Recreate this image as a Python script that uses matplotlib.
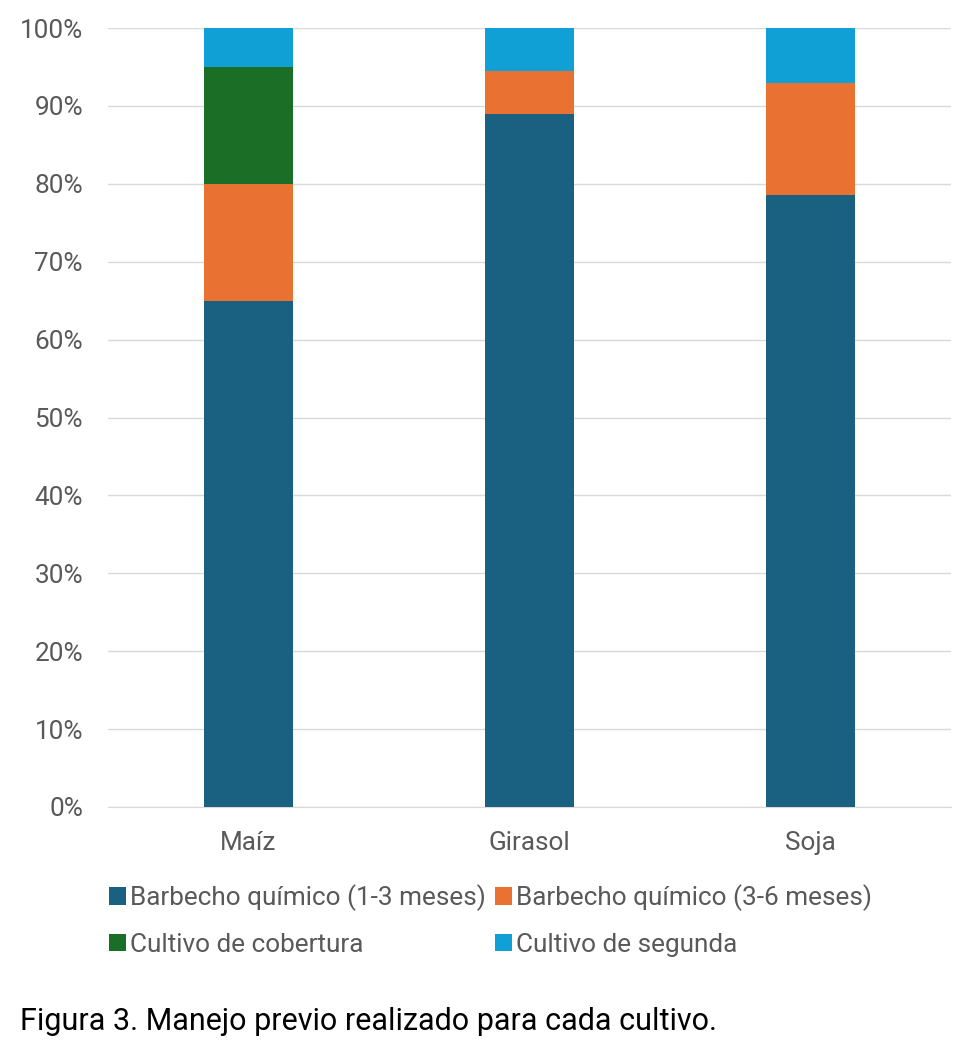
import matplotlib
matplotlib.use("Agg")
import matplotlib.pyplot as plt
from matplotlib.ticker import PercentFormatter
import numpy as np

categories = ["Maíz", "Girasol", "Soja"]
series_names = ["Barbecho químico (1-3 meses)", "Barbecho químico (3-6 meses)",
                "Cultivo de cobertura", "Cultivo de segunda"]
barbecho_1_3 = [65.0, 88.9, 78.6]
barbecho_3_6 = [15.0, 5.55, 14.3]
cobertura = [15.0, 0.0, 0.0]
segunda = [5.0, 5.55, 7.1]
colors = ["#1a6080", "#e97132", "#1b6e26", "#10a0d6"]
yticks = [0, 10, 20, 30, 40, 50, 60, 70, 80, 90, 100]

plt.rcParams['font.family'] = ['Roboto', 'DejaVu Sans']

fig = plt.figure(figsize=(9.79, 10.61), dpi=100)
ax = fig.add_axes([108/979, 1 - 807/1061, 843/979, 779/1061])

x = np.arange(len(categories))
bottom = np.zeros(len(categories))
handles = []
for name, vals, c in zip(series_names, [barbecho_1_3, barbecho_3_6, cobertura, segunda], colors):
    h = ax.bar(x, vals, width=0.316, bottom=bottom, color=c, label=name, zorder=3)
    handles.append(h)
    bottom += np.array(vals)

ax.set_xlim(-0.5, 2.5)
ax.set_ylim(0, 100)
ax.set_yticks(yticks)
ax.yaxis.set_major_formatter(PercentFormatter(decimals=0))
ax.set_xticks(x)
ax.set_xticklabels(categories)
ax.grid(axis='y', color='#d9d9d9', linewidth=1, zorder=0)
for s in ['top', 'right', 'left']:
    ax.spines[s].set_visible(False)
ax.spines['bottom'].set_color('#d9d9d9')
ax.tick_params(axis='both', length=0, labelsize=18.8, colors='#595959')
ax.tick_params(axis='y', pad=18)
ax.tick_params(axis='x', pad=17)

order = [0, 2, 1, 3]
leg = fig.legend(handles=[handles[i] for i in order],
                 labels=[series_names[i] for i in order], ncol=2,
                 loc='upper left', bbox_to_anchor=(86/979, 1 - 861/1061),
                 frameon=False, fontsize=18.8, handlelength=0.65, handleheight=0.65,
                 handletextpad=0.15, columnspacing=0.35, labelspacing=0.82,
                 labelcolor='#595959')

fig.text(20/979, 1 - 1022/1061, "Figura 3. Manejo previo realizado para cada cultivo.",
         fontsize=22, color='black', va='center', ha='left')

fig.savefig("out.png", dpi=100, facecolor='white')
